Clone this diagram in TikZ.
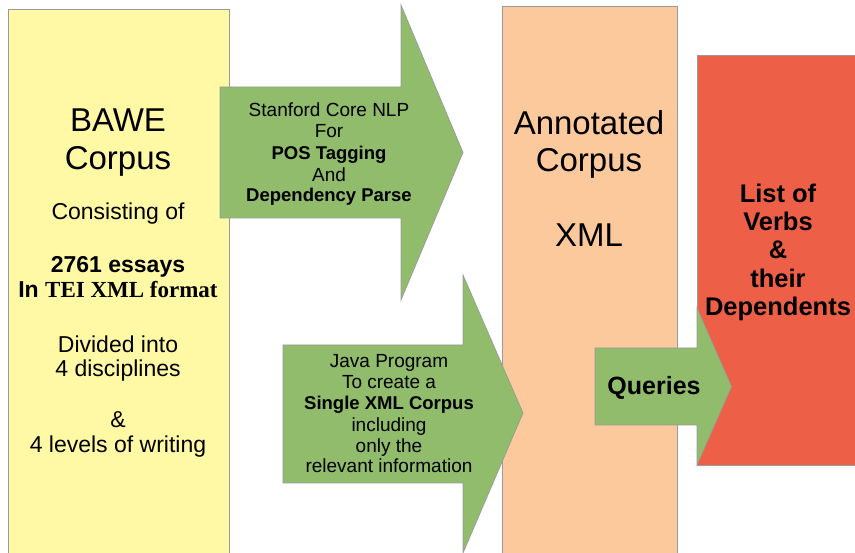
\documentclass[tikz,border=0pt]{standalone}
\usepackage{fontspec}
\setmainfont{Liberation Sans}
\newfontfamily\timesfont{Liberation Serif}
\definecolor{boxyellow}{HTML}{FFF9A5}
\definecolor{arrowgreen}{HTML}{90BC6C}
\definecolor{boxpeach}{HTML}{FCC99C}
\definecolor{boxred}{HTML}{EE5F48}
\definecolor{edgegray}{HTML}{9A9A9A}
\tikzset{
  panel/.style={draw=edgegray, line width=0.7pt},
  txt/.style={anchor=base, inner sep=0pt, text=black},
  arrtxt/.style={txt, font=\fontsize{19}{19}\selectfont},
  arrbold/.style={txt, font=\fontsize{18.5}{19}\selectfont\bfseries},
  redtxt/.style={txt, font=\fontsize{25.5}{26}\selectfont\bfseries},
}
\begin{document}
\begin{tikzpicture}[x=1pt,y=-1pt]
\useasboundingbox (0,0) rectangle (855,553);
\clip (0,0) rectangle (855,553);
\fill[white] (0,0) rectangle (855,553);
% yellow box
\draw[panel, fill=boxyellow] (8,9) rectangle (229,565);
% arrow 1
\draw[panel, fill=arrowgreen] (220,87) -- (401,87) -- (401,5) -- (463,152.5) -- (401,300) -- (401,218) -- (220,218) -- cycle;
% peach box
\draw[panel, fill=boxpeach] (502,6) rectangle (677,565);
% arrow 2
\draw[panel, fill=arrowgreen] (283,345) -- (463,345) -- (463,275) -- (523,413) -- (463,553) -- (463,483) -- (283,483) -- cycle;
% red box
\draw[panel, fill=boxred] (697,55) rectangle (870,465);
% queries arrow
\draw[panel, fill=arrowgreen] (595,348) -- (697,348) -- (697,308) -- (731.5,386.5) -- (697,465) -- (697,425) -- (595,425) -- cycle;

% yellow text
\node[txt, font=\fontsize{33}{33}\selectfont] (bawe) at (118,131.5) {BAWE};
\node[txt, font=\fontsize{33}{33}\selectfont] (bcorpus) at (118,170) {Corpus};
\node[txt, font=\fontsize{23}{23}\selectfont] (consist) at (118,220) {Consisting of};
\node[txt, font=\fontsize{23}{23}\selectfont\bfseries] (essays) at (118,273) {2761 essays};
\node[txt, font=\fontsize{23}{23}\selectfont\bfseries] (tei) at (118,298) {In {\timesfont TEI XML format}};
\node[txt, font=\fontsize{23}{23}\selectfont] (divided) at (118,353) {Divided into};
\node[txt, font=\fontsize{23}{23}\selectfont] (disc) at (118,377) {4 disciplines};
\node[txt, font=\fontsize{23}{23}\selectfont] (amp1) at (118,428) {\&};
\node[txt, font=\fontsize{23}{23}\selectfont] (levels) at (118,453) {4 levels of writing};

% arrow 1 text
\node[arrtxt] (stan) at (329,117) {Stanford Core NLP};
\node[arrtxt] (for) at (329,138) {For};
\node[arrbold] (pos) at (329,160) {POS Tagging};
\node[arrtxt] (and) at (329,182) {And};
\node[arrbold] (dep) at (329,202) {Dependency Parse};

% arrow 2 text
\node[arrtxt] (java) at (389,368) {Java Program};
\node[arrtxt] (create) at (389,389) {To create a};
\node[arrbold] (single) at (389,410) {Single XML Corpus};
\node[arrtxt] (incl) at (389,432) {including};
\node[arrtxt] (only) at (389,453) {only the};
\node[arrtxt] (rel) at (389,473) {relevant information};

% peach text
\node[txt, font=\fontsize{33}{33}\selectfont] (annot) at (589,135) {Annotated};
\node[txt, font=\fontsize{33}{33}\selectfont] (acorpus) at (589,171.5) {Corpus};
\node[txt, font=\fontsize{33}{33}\selectfont] (xml) at (589,246.5) {XML};

% red text
\node[redtxt] (list) at (778,202.5) {List of};
\node[redtxt] (verbs) at (778,230.5) {Verbs};
\node[redtxt] (amp2) at (778,259) {\&};
\node[redtxt] (their) at (778,287.5) {their};
\node[redtxt] (deps) at (778,316) {Dependents};

% queries
\node[txt, font=\fontsize{25}{25}\selectfont\bfseries] (queries) at (654,395) {Queries};
\end{tikzpicture}
\end{document}
